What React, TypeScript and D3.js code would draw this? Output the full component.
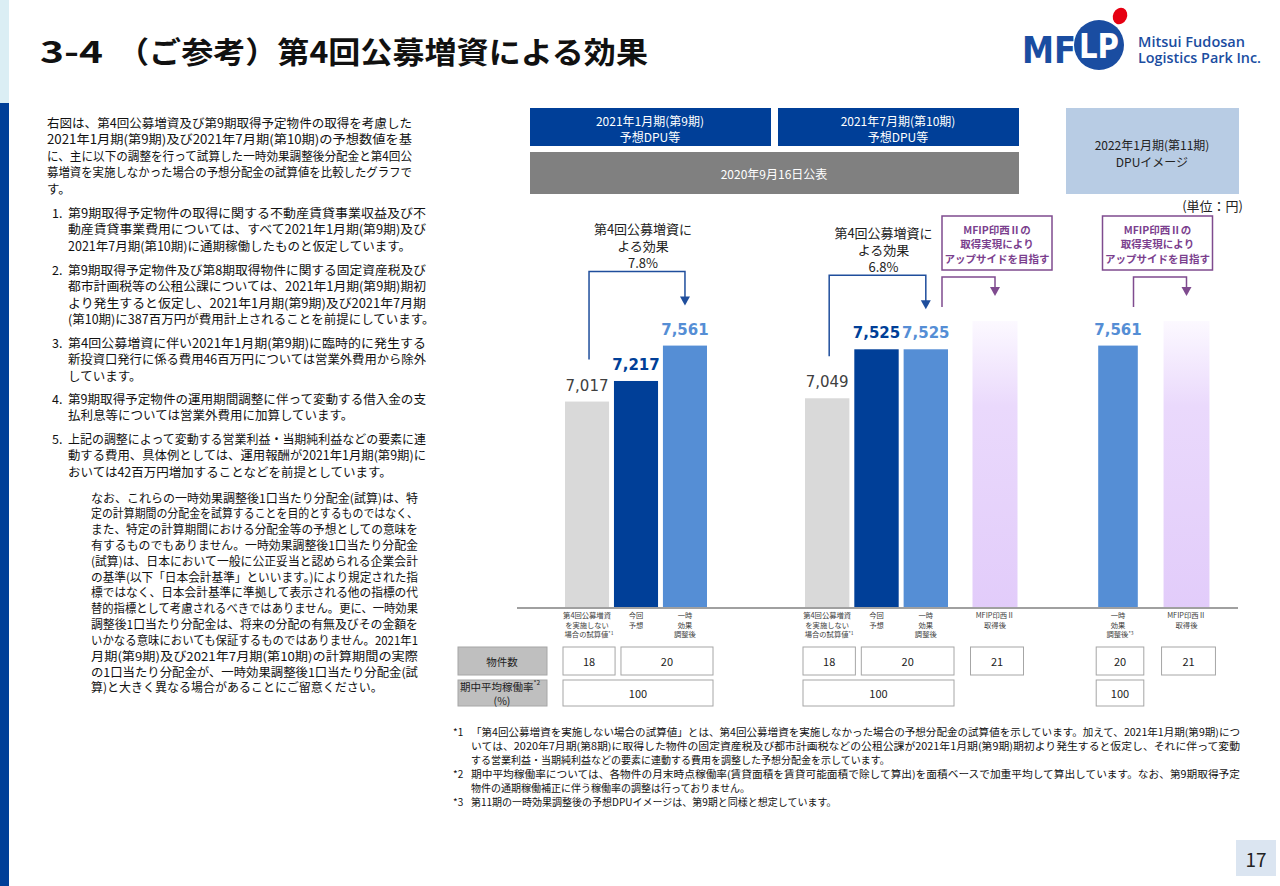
import React from 'react';
import * as d3 from 'd3';

const JP = '"Noto Sans CJK JP", "Noto Sans", sans-serif';
const NUM = '"DejaVu Sans", Verdana, sans-serif';

// ---- chart data ----
const barKeys = ['base9', 'fcst9', 'adj9', 'base10', 'fcst10', 'adj10', 'inzai10', 'adj11', 'inzai11'];
const barKinds = ['base', 'fcst', 'adj', 'base', 'fcst', 'adj', 'upside', 'adj', 'upside'];
const barValues = [7017, 7217, 7561, 7049, 7525, 7525, 7800, 7561, 7800];
const barShowValue = [true, true, true, true, true, true, false, true, false];
const barCategories = [
  ['第4回公募増資', 'を実施しない', '場合の試算値*1'],
  ['今回', '予想'],
  ['一時', '効果', '調整後'],
  ['第4回公募増資', 'を実施しない', '場合の試算値*1'],
  ['今回', '予想'],
  ['一時', '効果', '調整後'],
  ['MFIP印西Ⅱ', '取得後'],
  ['一時', '効果', '調整後*3'],
  ['MFIP印西Ⅱ', '取得後'],
];

// bar clusters (layout)
const clusters = [
  { keys: ['base9', 'fcst9', 'adj9'], range: [565, 707] },
  { keys: ['base10', 'fcst10', 'adj10'], range: [805, 948] },
  { keys: ['inzai10'], range: [970, 1020] },
  { keys: ['adj11'], range: [1096, 1140] },
  { keys: ['inzai11'], range: [1161, 1212] },
];

// table data
const countCells = [
  { label: '18', from: 'base9', to: 'base9' },
  { label: '20', from: 'fcst9', to: 'adj9' },
  { label: '18', from: 'base10', to: 'base10' },
  { label: '20', from: 'fcst10', to: 'adj10' },
  { label: '21', from: 'inzai10', to: 'inzai10' },
  { label: '20', from: 'adj11', to: 'adj11' },
  { label: '21', from: 'inzai11', to: 'inzai11' },
];
const occupancyCells = [
  { label: '100', from: 'base9', to: 'adj9' },
  { label: '100', from: 'base10', to: 'adj10' },
  { label: '100', from: 'adj11', to: 'adj11' },
];

// annotations
const effectTexts = [
  ['第4回公募増資に', 'よる効果', '7.8%'],
  ['第4回公募増資に', 'よる効果', '6.8%'],
];
const effectFrom = ['base9', 'base10'];
const effectTo = ['adj9', 'adj10'];
const upsideLines = ['MFIP印西Ⅱの', '取得実現により', 'アップサイドを目指す'];
const upsideTargets = ['inzai10', 'inzai11'];
const upsideBoxShift = [2, -29];

// ---- text blocks ----
const introLines = [
  '右図は、第4回公募増資及び第9期取得予定物件の取得を考慮した',
  '2021年1月期(第9期)及び2021年7月期(第10期)の予想数値を基',
  'に、主に以下の調整を行って試算した一時効果調整後分配金と第4回公',
  '募増資を実施しなかった場合の予想分配金の試算値を比較したグラフで',
  'す。',
];
const listItems = [
  [
    '第9期取得予定物件の取得に関する不動産賃貸事業収益及び不',
    '動産賃貸事業費用については、すべて2021年1月期(第9期)及び',
    '2021年7月期(第10期)に通期稼働したものと仮定しています。',
  ],
  [
    '第9期取得予定物件及び第8期取得物件に関する固定資産税及び',
    '都市計画税等の公租公課については、2021年1月期(第9期)期初',
    'より発生すると仮定し、2021年1月期(第9期)及び2021年7月期',
    '(第10期)に387百万円が費用計上されることを前提にしています。',
  ],
  [
    '第4回公募増資に伴い2021年1月期(第9期)に臨時的に発生する',
    '新投資口発行に係る費用46百万円については営業外費用から除外',
    'しています。',
  ],
  [
    '第9期取得予定物件の運用期間調整に伴って変動する借入金の支',
    '払利息等については営業外費用に加算しています。',
  ],
  [
    '上記の調整によって変動する営業利益・当期純利益などの要素に連',
    '動する費用、具体例としては、運用報酬が2021年1月期(第9期)に',
    'おいては42百万円増加することなどを前提としています。',
  ],
];
const listStartY = [212, 269, 342, 398, 438];
const noteLines = [
  'なお、これらの一時効果調整後1口当たり分配金(試算)は、特',
  '定の計算期間の分配金を試算することを目的とするものではなく、',
  'また、特定の計算期間における分配金等の予想としての意味を',
  '有するものでもありません。一時効果調整後1口当たり分配金',
  '(試算)は、日本において一般に公正妥当と認められる企業会計',
  'の基準(以下「日本会計基準」といいます。)により規定された指',
  '標ではなく、日本会計基準に準拠して表示される他の指標の代',
  '替的指標として考慮されるべきではありません。更に、一時効果',
  '調整後1口当たり分配金は、将来の分配の有無及びその金額を',
  'いかなる意味においても保証するものではありません。2021年1',
  '月期(第9期)及び2021年7月期(第10期)の計算期間の実際',
  'の1口当たり分配金が、一時効果調整後1口当たり分配金(試',
  '算)と大きく異なる場合があることにご留意ください。',
];
const footnotes = [
  { mark: '*1', text: '「第4回公募増資を実施しない場合の試算値」とは、第4回公募増資を実施しなかった場合の予想分配金の試算値を示しています。加えて、2021年1月期(第9期)につ', full: true },
  { mark: '', text: 'いては、2020年7月期(第8期)に取得した物件の固定資産税及び都市計画税などの公租公課が2021年1月期(第9期)期初より発生すると仮定し、それに伴って変動', full: true },
  { mark: '', text: 'する営業利益・当期純利益などの要素に連動する費用を調整した予想分配金を示しています。', full: false },
  { mark: '*2', text: '期中平均稼働率については、各物件の月末時点稼働率(賃貸面積を賃貸可能面積で除して算出)を面積ベースで加重平均して算出しています。なお、第9期取得予定', full: true },
  { mark: '', text: '物件の通期稼働補正に伴う稼働率の調整は行っておりません。', full: false },
  { mark: '*3', text: '第11期の一時効果調整後の予想DPUイメージは、第9期と同様と想定しています。', full: false },
];

const DARK = '#003f98';
const LIGHT = '#558ed5';
const GRAYBAR = '#d9d9d9';
const PURPLE = '#7f4b8f';
const ARROWBLUE = '#1f4e9c';

const fillFor = (k: string) =>
  k === 'base' ? GRAYBAR : k === 'fcst' ? DARK : k === 'adj' ? LIGHT : 'url(#upGrad)';
const labelColor = (k: string) => (k === 'base' ? '#404040' : k === 'fcst' ? DARK : LIGHT);

const Para = ({ lines, x, y, step, width, size = 12.5 }: any) => (
  <g fontFamily={JP} fontSize={size} fill="#111">
    {lines.map((l: string, i: number) => (
      <text
        key={i}
        x={x}
        y={y + i * step}
        dominantBaseline="central"
        {...(i < lines.length - 1 ? { textLength: width, lengthAdjust: 'spacingAndGlyphs' } : {})}
      >
        {l}
      </text>
    ))}
  </g>
);

const arrowHead = (x: number, tip: number, color: string) => (
  <path d={`M${x - 5},${tip - 9} L${x + 5},${tip - 9} L${x},${tip} Z`} fill={color} />
);

export default function App() {
  const xOf: Record<string, number> = {};
  const wOf: Record<string, number> = {};
  const clusterStart: Record<string, boolean> = {};
  clusters.forEach((c) => {
    const s = d3.scaleBand().domain(c.keys).range(c.range as [number, number]).paddingInner(0.1);
    c.keys.forEach((k, i) => {
      xOf[k] = s(k) as number;
      wOf[k] = s.bandwidth();
      clusterStart[k] = i === 0;
    });
  });
  const y = d3.scaleLinear().domain([5020, 7800]).range([607, 321]);
  const base = y(5020);
  const cx = (k: string) => xOf[k] + wOf[k] / 2;
  const valOf = (k: string) => barValues[barKeys.indexOf(k)];
  const fmt = d3.format(',');

  const cellBox = (from: string, to: string) => {
    const single = from === to && clusterStart[from];
    const l = xOf[from] + (clusterStart[from] ? (single && wOf[from] > 46 ? 2 : -2) : 7);
    const r = xOf[to] + wOf[to] + (single && wOf[from] > 46 ? 1 : 6);
    return [l, r];
  };

  return (
    <svg width={1280} height={886} style={{ position: 'absolute', left: 0, top: 0, background: '#fff' }}>
      <defs>
        <linearGradient id="upGrad" x1="0" y1="0" x2="0" y2="1">
          <stop offset="0" stopColor="#fcf9ff" />
          <stop offset="0.3" stopColor="#ead9fc" />
          <stop offset="1" stopColor="#e2ccfa" />
        </linearGradient>
      </defs>
      <rect x={0} y={0} width={1280} height={886} fill="#fff" />
      {/* side strip */}
      <rect x={0} y={0} width={9} height={103} fill="#dbeef4" />
      <rect x={0} y={103} width={9} height={783} fill={DARK} />

      {/* title */}
      <text x={40} y={63} fontFamily={JP} fontWeight="bold" fontSize={30} fill="#111" textLength={63} lengthAdjust="spacingAndGlyphs">3-4</text>
      <text x={117} y={63} fontFamily={JP} fontWeight="bold" fontSize={30} fill="#111" textLength={531} lengthAdjust="spacingAndGlyphs">（ご参考）第4回公募増資による効果</text>

      {/* logo */}
      <g>
        <text x={1022} y={63} fontFamily={NUM} fontWeight="bold" fontSize={38} fill="#1a4da1" textLength={54} lengthAdjust="spacingAndGlyphs">MF</text>
        <circle cx={1099} cy={45} r={25} fill="#1a4da1" />
        <text x={1099} y={58} textAnchor="middle" fontFamily={NUM} fontWeight="bold" fontSize={34} fill="#fff" textLength={40} lengthAdjust="spacingAndGlyphs">LP</text>
        <ellipse cx={1120} cy={16} rx={7} ry={8.5} fill="#e60012" transform="rotate(25 1120 16)" />
        <text x={1138} y={47} fontFamily='"Open Sans", sans-serif' fontWeight={600} fontSize={14} fill="#1a4da1" textLength={107} lengthAdjust="spacingAndGlyphs">Mitsui Fudosan</text>
        <text x={1138} y={63} fontFamily='"Open Sans", sans-serif' fontWeight={600} fontSize={14} fill="#1a4da1" textLength={123} lengthAdjust="spacingAndGlyphs">Logistics Park Inc.</text>
      </g>

      {/* left text */}
      <Para lines={introLines} x={47} y={122} step={16.5} width={365} />
      {listItems.map((item, i) => (
        <g key={i}>
          <text x={52} y={listStartY[i]} dominantBaseline="central" fontFamily={JP} fontSize={12.5} fill="#111">{`${i + 1}.`}</text>
          <Para lines={item} x={68} y={listStartY[i]} step={16.5} width={358} />
        </g>
      ))}
      <Para lines={noteLines} x={91} y={497} step={15.83} width={327} size={12} />

      {/* header boxes */}
      <rect x={530} y={108} width={241} height={38} fill={DARK} />
      <rect x={778} y={108} width={241} height={38} fill={DARK} />
      <rect x={530} y={152} width={489} height={42} fill="#808080" />
      <rect x={1066} y={108} width={173} height={86} fill="#b8cce4" />
      <g fontFamily={JP} fontSize={12} textAnchor="middle" dominantBaseline="central">
        <text x={650} y={120} fill="#fff">2021年1月期(第9期)</text>
        <text x={650} y={136} fill="#fff">予想DPU等</text>
        <text x={898} y={120} fill="#fff">2021年7月期(第10期)</text>
        <text x={898} y={136} fill="#fff">予想DPU等</text>
        <text x={774} y={173} fill="#fff">2020年9月16日公表</text>
        <text x={1152} y={144} fill="#222">2022年1月期(第11期)</text>
        <text x={1152} y={161} fill="#222">DPUイメージ</text>
      </g>
      <text x={1243} y={205} textAnchor="end" dominantBaseline="central" fontFamily={JP} fontSize={13} fill="#222">(単位：円)</text>

      {/* bars */}
      {barKeys.map((k, i) => (
        <rect key={k} x={xOf[k]} y={y(barValues[i])} width={wOf[k]} height={base - y(barValues[i])} fill={fillFor(barKinds[i])} />
      ))}
      {barKeys.map((k, i) =>
        barShowValue[i] ? (
          <text
            key={k}
            x={cx(k)}
            y={y(barValues[i]) - 11}
            textAnchor="middle"
            fontFamily={NUM}
            fontSize={15}
            fontWeight={barKinds[i] === 'base' ? 'normal' : 'bold'}
            fill={labelColor(barKinds[i])}
          >
            {fmt(barValues[i])}
          </text>
        ) : null
      )}
      <line x1={517} x2={1238} y1={base + 1} y2={base + 1} stroke="#808080" strokeWidth={1.5} />

      {/* category labels */}
      {barKeys.map((k, i) => (
        <g key={k} fontFamily={JP} fontSize={7.3} fill="#404040" textAnchor="middle">
          {barCategories[i].map((l, j) => {
            const m = l.match(/^(.*?)(\*\d)$/);
            return (
              <text key={j} x={cx(k) + (m ? 2 : 0)} y={615 + j * 9.7} dominantBaseline="central">
                {m ? m[1] : l}
                {m ? <tspan fontSize={5} dy={-2.5}>{m[2]}</tspan> : null}
              </text>
            );
          })}
        </g>
      ))}

      {/* effect annotations */}
      {effectTexts.map((lines, i) => {
        const lx = cx(effectFrom[i]) + 2;
        const rx = cx(effectTo[i]);
        const tip = y(valOf(effectTo[i])) - 40;
        const top = tip - 34;
        const bottom = y(valOf(effectFrom[i])) - 42;
        const tx = (lx + rx) / 2 + 6;
        return (
          <g key={i}>
            {lines.map((l, j) => (
              <text key={j} x={tx} y={top - 43 + j * 17} textAnchor="middle" dominantBaseline="central" fontFamily={JP} fontSize={13} fill="#222">{l}</text>
            ))}
            <path d={`M${lx},${bottom} V${top} H${rx} V${tip - 8}`} fill="none" stroke={ARROWBLUE} strokeWidth={1.5} />
            {arrowHead(rx, tip, ARROWBLUE)}
          </g>
        );
      })}

      {/* upside annotations */}
      {upsideTargets.map((k, i) => {
        const rx = cx(k);
        const lx = rx - 53;
        const bc = rx + upsideBoxShift[i];
        return (
          <g key={k}>
            <rect x={bc - 55} y={216} width={110} height={54} fill="#fff" stroke={PURPLE} strokeWidth={1.5} />
            {upsideLines.map((l, j) => (
              <text key={j} x={bc} y={229 + j * 14.5} textAnchor="middle" dominantBaseline="central" fontFamily={JP} fontWeight="bold" fontSize={10.5} fill="#7b3f8e">{l}</text>
            ))}
            <path d={`M${lx},307 V277 H${rx} V288`} fill="none" stroke={PURPLE} strokeWidth={1.5} />
            {arrowHead(rx, 296, PURPLE)}
          </g>
        );
      })}

      {/* table */}
      <rect x={458} y={647} width={89} height={28} fill="#bfbfbf" stroke="#a6a6a6" />
      <rect x={458} y={680} width={89} height={26} fill="#bfbfbf" stroke="#a6a6a6" />
      <g fontFamily={JP} fontSize={10.5} fill="#222" textAnchor="middle" dominantBaseline="central">
        <text x={502} y={661}>物件数</text>
        <text x={500} y={686}>期中平均稼働率<tspan fontSize={6.5} dy={-4}>*2</tspan></text>
        <text x={502} y={700}>(%)</text>
      </g>
      {countCells.map((c, i) => {
        const [l, r] = cellBox(c.from, c.to);
        return (
          <g key={i}>
            <rect x={l} y={647} width={r - l} height={28} fill="#fff" stroke="#a6a6a6" />
            <text x={(l + r) / 2} y={661} textAnchor="middle" dominantBaseline="central" fontFamily={JP} fontSize={11} fill="#222">{c.label}</text>
          </g>
        );
      })}
      {occupancyCells.map((c, i) => {
        const [l, r] = cellBox(c.from, c.to);
        return (
          <g key={i}>
            <rect x={l} y={680} width={r - l} height={26} fill="#fff" stroke="#a6a6a6" />
            <text x={(l + r) / 2} y={693} textAnchor="middle" dominantBaseline="central" fontFamily={JP} fontSize={11} fill="#222">{c.label}</text>
          </g>
        );
      })}

      {/* footnotes */}
      <g fontFamily={JP} fontSize={10} fill="#111">
        {footnotes.map((f, i) => (
          <g key={i}>
            {f.mark ? <text x={453} y={731 + i * 14} dominantBaseline="central">{f.mark}</text> : null}
            <text
              x={471}
              y={731 + i * 14}
              dominantBaseline="central"
              {...(f.full ? { textLength: 769, lengthAdjust: 'spacingAndGlyphs' } : {})}
            >
              {f.text}
            </text>
          </g>
        ))}
      </g>

      {/* page number */}
      <rect x={1236} y={840} width={40} height={36} fill="#dbe5f1" />
      <text x={1256} y={858} textAnchor="middle" dominantBaseline="central" fontFamily={JP} fontSize={19} fill="#222">17</text>
    </svg>
  );
}
